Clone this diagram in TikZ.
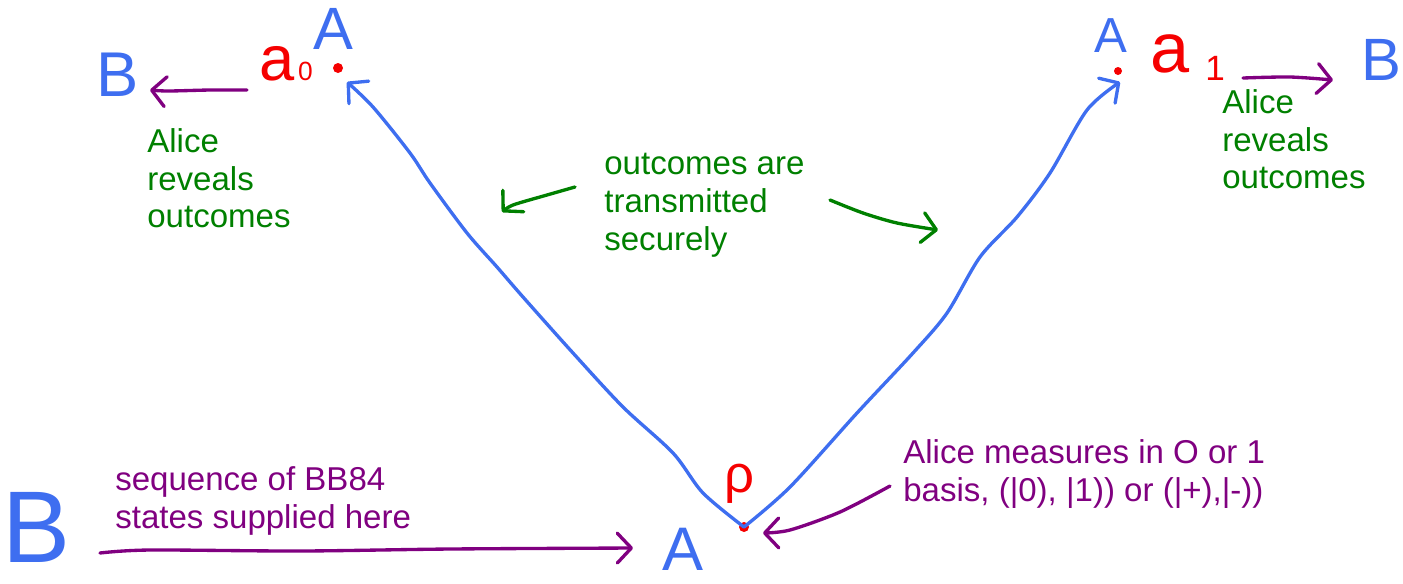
\documentclass[tikz,border=0pt]{standalone}
\usepackage{fontspec}
\setmainfont{Liberation Sans}
\usetikzlibrary{arrows.meta}
\definecolor{hblue}{RGB}{62,110,240}
\definecolor{hred}{RGB}{245,0,0}
\definecolor{hpurple}{RGB}{128,0,128}
\definecolor{hgreen}{RGB}{0,128,0}
\tikzset{
  ink/.style={line width=1.9pt, line cap=round, line join=round},
  blueink/.style={ink, draw=hblue},
  purpleink/.style={ink, draw=hpurple},
  greenink/.style={ink, draw=hgreen},
  barb/.style={-{Straight Barb[length=8pt,width=17pt,round]}},
  txt/.style={font=\fontsize{18.8}{21.5}\selectfont, align=left, anchor=north west, inner sep=0pt},
  handletter/.style={inner sep=0pt},
  reddot/.style={circle, fill=hred, inner sep=0pt, minimum size=0.2cm},
}
\begin{document}
\begin{tikzpicture}[x=0.02cm,y=-0.02cm]
\useasboundingbox (0,0) rectangle (1403,583);

% ---- top left ----
\node[handletter, text=hblue, font=\fontsize{34}{34}\selectfont] (A0) at (333,29) {A};
\node[handletter, text=hred, font=\fontsize{36}{36}\selectfont, anchor=base west] (a0) at (259,80) {a\hspace{2pt}{\fontsize{15}{15}\selectfont 0}};
\node[reddot] (d0) at (338,68) {};
\node[handletter, text=hblue, font=\fontsize{36}{36}\selectfont] (B0) at (118,75) {B};
\node[txt, text=hgreen] (al0) at (147,128) {Alice\\reveals\\outcomes};
\coordinate (a0s) at (247,90);
\coordinate (B0t) at (150,90);
\coordinate (t0) at (347,82);

% ---- top right ----
\node[handletter, text=hblue, font=\fontsize{28}{28}\selectfont] (A1) at (1111,36) {A};
\node[reddot, minimum size=0.16cm] (d1) at (1118,71) {};
\node[handletter, text=hred, font=\fontsize{40}{40}\selectfont, anchor=base west] (a1) at (1150,72) {a\hspace{9pt}\raisebox{-5pt}{\fontsize{20}{20}\selectfont 1}};
\node[handletter, text=hblue, font=\fontsize{34}{34}\selectfont] (B1) at (1381,60) {B};
\node[txt, text=hgreen] (al1) at (1222,89) {Alice\\reveals\\outcomes};
\coordinate (a1s) at (1243,78);
\coordinate (B1t) at (1333,80);
\coordinate (t1) at (1120,82);

% ---- centre ----
\node[txt, text=hgreen] (sec) at (604,153) {outcomes are\\transmitted\\securely};
\coordinate (gl0) at (575,187);
\coordinate (gl1) at (502,212);
\coordinate (gr0) at (830,200);
\coordinate (gr1) at (938,230);

% ---- bottom ----
\node[handletter, text=hblue, font=\fontsize{35}{35}\selectfont] (Ab) at (683,549) {A};
\node[handletter, text=hblue, font=\fontsize{58}{58}\selectfont] (Bb) at (36,527) {B};
\node[handletter, text=hred, font=\fontsize{30}{30}\selectfont] (rho) at (739,484) {ρ};
\node[reddot] (p) at (744,527) {};
\node[txt, text=hpurple] (seq) at (115,466) {sequence of BB84\\states supplied here};
\node[txt, text=hpurple] (meas) at (903,439) {Alice measures in O or 1\\basis, (|0), |1)) or (|+),|-))};
\coordinate (bs) at (100,553);
\coordinate (bt) at (633,548);
\coordinate (ms) at (890,486);
\coordinate (mt) at (763,533);

% ---- connectors ----
\draw[blueink, barb] plot[smooth] coordinates {(p) (703,493) (673,453) (623,407) (573,353) (523,297) (497,267) (467,233) (430,183) (410,153) (373,107) (t0)};
\draw[blueink, barb] plot[smooth] coordinates {(p) (790,487) (857,413) (913,353) (947,313) (980,257) (1017,217) (1050,173) (1087,110) (t1)};
\draw[purpleink, barb] plot[smooth] coordinates {(a0s) (210,90) (168,91) (B0t)};
\draw[purpleink, barb] plot[smooth] coordinates {(a1s) (1290,77) (B1t)};
\draw[greenink, barb] plot[smooth] coordinates {(gl0) (547,195) (513,205) (gl1)};
\draw[greenink, barb] plot[smooth] coordinates {(gr0) (863,213) (897,223) (gr1)};
\draw[purpleink, barb] plot[smooth] coordinates {(bs) (150,550) (300,551) (450,549) (bt)};
\draw[purpleink, barb] plot[smooth] coordinates {(ms) (840,512) (790,530) (mt)};
\end{tikzpicture}
\end{document}
